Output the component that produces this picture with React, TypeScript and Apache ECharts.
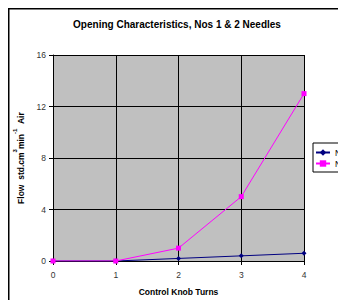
import React, { useEffect, useRef } from "react";
import * as echarts from "echarts";

const turns = [0, 1, 2, 3, 4];
const needle1 = [0, 0, 0.2, 0.4, 0.6];
const needle2 = [0, 0, 1, 5, 13];
const seriesNames = ["No 1", "No 2"];
const titleText = "Opening Characteristics, Nos 1 & 2 Needles";
const xTitle = "Control Knob Turns";

const FONT = "'Liberation Sans', Arial, sans-serif";

export default function App() {
  const ref = useRef<HTMLDivElement>(null);
  useEffect(() => {
    if (!ref.current) return;
    const chart = echarts.init(ref.current, undefined, { renderer: "svg" });
    const pairs = (vals: number[]) => turns.map((t, i) => [t, vals[i]]);
    chart.setOption({
      animation: false,
      backgroundColor: "#fff",
      textStyle: { fontFamily: FONT },
      title: {
        text: titleText,
        left: "center",
        top: 11,
        padding: 0,
        textStyle: { fontSize: 10, fontWeight: "bold", color: "#000", fontFamily: FONT },
      },
      graphic: [
        {
          type: "rect",
          shape: { x: 0.75, y: 0.75, width: 400, height: 297.5 },
          style: { fill: "none", stroke: "#000", lineWidth: 1.5 },
          silent: true,
        },
      ],
      legend: {
        orient: "vertical",
        left: 305,
        top: 135,
        padding: [5, 3, 4, 2],
        itemGap: 2,
        itemWidth: 14,
        itemHeight: 8,
        borderColor: "#000",
        borderWidth: 1,
        backgroundColor: "#fff",
        textStyle: { fontSize: 8.5, color: "#000", fontFamily: FONT },
        data: seriesNames,
      },
      grid: {
        left: 45,
        top: 47,
        right: 42,
        bottom: 47,
        show: true,
        backgroundColor: "#C0C0C0",
        borderColor: "#000",
        borderWidth: 0,
        containLabel: false,
        outerBoundsMode: "none",
      },
      xAxis: {
        type: "value",
        min: 0,
        max: 4,
        interval: 1,
        name: xTitle,
        nameLocation: "middle",
        nameGap: 26,
        nameTextStyle: { fontSize: 8.5, fontWeight: "bold", color: "#000", fontFamily: FONT },
        axisLine: { show: true, lineStyle: { color: "#000", width: 1 } },
        axisTick: { show: true, length: 4, lineStyle: { color: "#000" } },
        axisLabel: { margin: 9, fontSize: 8.5, color: "#333", fontFamily: FONT },
        splitLine: { show: true, lineStyle: { color: "#000", width: 1 } },
      },
      yAxis: {
        type: "value",
        min: 0,
        max: 16,
        interval: 4,
        name: "{a|Flow  std.cm}{s|3}{a|min}{s|-1}{a|  Air}",
        nameLocation: "middle",
        nameRotate: 90,
        nameGap: 17,
        nameTextStyle: {
          rich: {
            a: { fontSize: 8.5, fontWeight: "bold", color: "#000", fontFamily: FONT, lineHeight: 14, verticalAlign: "bottom" },
            s: { fontSize: 6, fontWeight: "bold", color: "#000", fontFamily: FONT, lineHeight: 14, verticalAlign: "top" },
          },
        },
        axisLine: { show: true, lineStyle: { color: "#000", width: 1 } },
        axisTick: { show: true, length: 4, lineStyle: { color: "#000" } },
        axisLabel: { margin: 7, fontSize: 8.5, color: "#333", fontFamily: FONT },
        splitLine: { show: true, lineStyle: { color: "#000", width: 1 } },
      },
      series: [
        {
          name: seriesNames[0],
          type: "line",
          data: pairs(needle1),
          symbol: "diamond",
          symbolSize: 5,
          itemStyle: { color: "#000080" },
          lineStyle: { color: "#000080", width: 1 },
          z: 3,
        },
        {
          name: seriesNames[1],
          type: "line",
          data: pairs(needle2),
          symbol: "rect",
          symbolSize: 5,
          itemStyle: { color: "#FF00FF" },
          lineStyle: { color: "#FF00FF", width: 1 },
          z: 4,
        },
      ],
    });
    return () => chart.dispose();
  }, []);
  return <div ref={ref} style={{ width: 338, height: 300, marginBottom: -8, overflow: "hidden" }} />;
}
